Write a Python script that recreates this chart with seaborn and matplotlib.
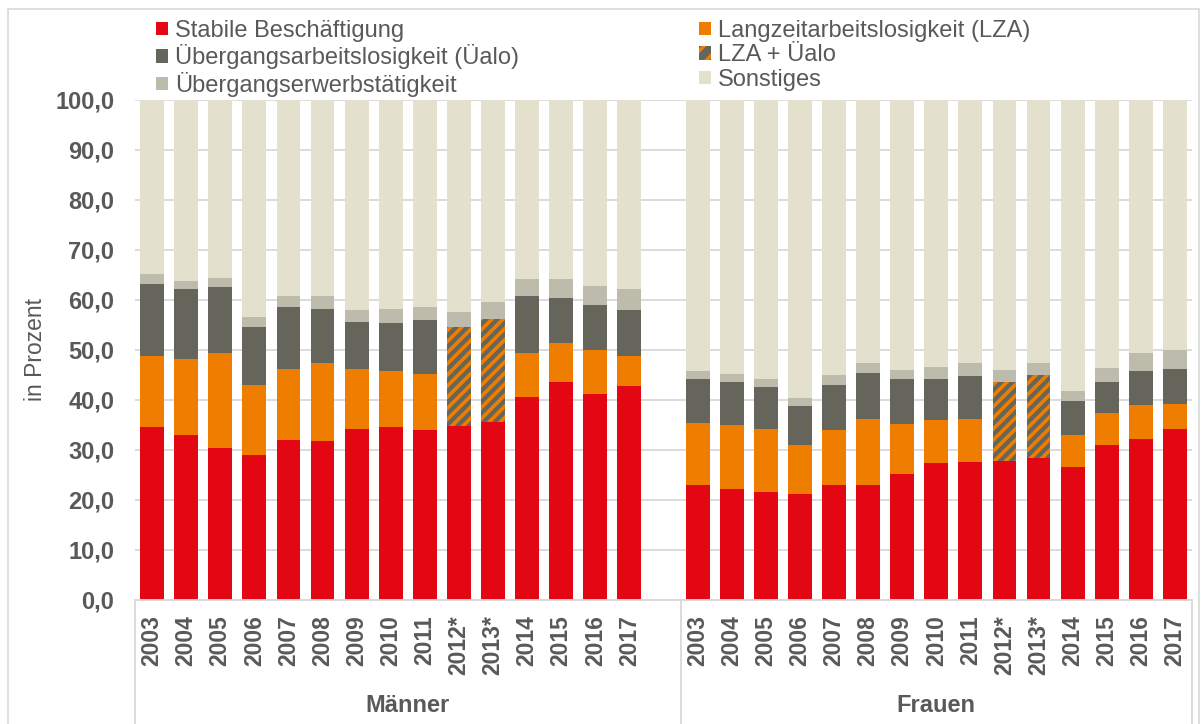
import numpy as np
import pandas as pd
import matplotlib
matplotlib.use("Agg")
import matplotlib.pyplot as plt
from matplotlib.patches import Patch, Rectangle
from matplotlib.lines import Line2D
import matplotlib.transforms as mtransforms
import seaborn as sns

# ---------------- data ----------------
years = ["2003", "2004", "2005", "2006", "2007", "2008", "2009", "2010", "2011",
         "2012*", "2013*", "2014", "2015", "2016", "2017"]
groups = ["Männer", "Frauen"]
nan = np.nan

m_stabil = [34.7, 33.1, 30.5, 29.1, 32.0, 31.9, 34.3, 34.6, 34.1, 34.9, 35.7, 40.7, 43.7, 41.3, 42.8]
m_lza = [14.1, 15.1, 19.0, 13.9, 14.2, 15.6, 12.0, 11.2, 11.2, nan, nan, 8.8, 7.8, 8.7, 6.1]
m_uealo = [14.5, 14.0, 13.2, 11.7, 12.5, 10.8, 9.4, 9.7, 10.7, nan, nan, 11.4, 9.0, 9.1, 9.2]
m_lza_uealo = [nan, nan, nan, nan, nan, nan, nan, nan, nan, 19.8, 20.6, nan, nan, nan, nan]
m_ueerw = [1.9, 1.7, 1.7, 2.0, 2.2, 2.5, 2.3, 2.8, 2.7, 3.0, 3.2, 3.4, 3.8, 3.8, 4.2]
m_sonst = [34.8, 36.1, 35.6, 43.3, 39.1, 39.2, 42.0, 41.7, 41.3, 42.3, 40.5, 35.7, 35.7, 37.1, 37.7]

f_stabil = [23.1, 22.3, 21.7, 21.3, 23.1, 23.1, 25.3, 27.5, 27.7, 27.9, 28.4, 26.7, 31.1, 32.3, 34.3]
f_lza = [12.3, 12.7, 12.5, 9.7, 10.9, 13.2, 9.9, 8.6, 8.5, nan, nan, 6.4, 6.3, 6.8, 5.0]
f_uealo = [8.9, 8.7, 8.5, 7.9, 9.0, 9.2, 9.1, 8.2, 8.7, nan, nan, 6.8, 6.3, 6.8, 6.9]
f_lza_uealo = [nan, nan, nan, nan, nan, nan, nan, nan, nan, 15.8, 16.7, nan, nan, nan, nan]
f_ueerw = [1.6, 1.6, 1.6, 1.6, 2.0, 2.0, 1.7, 2.4, 2.6, 2.3, 2.4, 2.0, 2.8, 3.6, 3.9]
f_sonst = [54.1, 54.7, 55.7, 59.5, 55.0, 52.5, 54.0, 53.3, 52.5, 54.0, 52.5, 58.1, 53.5, 50.5, 49.9]

series = ["Stabile Beschäftigung", "Langzeitarbeitslosigkeit (LZA)",
          "Übergangsarbeitslosigkeit (Üalo)", "LZA + Üalo",
          "Übergangserwerbstätigkeit", "Sonstiges"]
colors = {
    "Stabile Beschäftigung": "#E30613",
    "Langzeitarbeitslosigkeit (LZA)": "#EF7D00",
    "Übergangsarbeitslosigkeit (Üalo)": "#65655B",
    "LZA + Üalo": "#65655B",
    "Übergangserwerbstätigkeit": "#BDBBAB",
    "Sonstiges": "#E3E1CE",
}

# ---------------- build long table with stacked tops ----------------
rows = []
group_data = {
    "Männer": [m_stabil, m_lza, m_uealo, m_lza_uealo, m_ueerw, m_sonst],
    "Frauen": [f_stabil, f_lza, f_uealo, f_lza_uealo, f_ueerw, f_sonst],
}
for g in groups:
    vals = np.array(group_data[g], dtype=float)  # series x years
    filled = np.nan_to_num(vals)
    cum = np.cumsum(filled, axis=0)
    for j, y in enumerate(years):
        key = f"{g}|{y}"
        for i, s in enumerate(series):
            if not np.isnan(vals[i, j]):
                rows.append({"key": key, "series": s, "top": cum[i, j]})
df = pd.DataFrame(rows)

gap = " "
order = [f"Männer|{y}" for y in years] + [gap] + [f"Frauen|{y}" for y in years]

# ---------------- plot ----------------
sns.set_theme(style="white")
plt.rcParams["font.family"] = ["Liberation Sans", "DejaVu Sans"]
plt.rcParams["hatch.linewidth"] = 2.6

W, H = 1204, 724
fig = plt.figure(figsize=(W / 100, H / 100), dpi=100)
ax = fig.add_axes([135 / W, 1 - 600 / H, (1192 - 135) / W, 500 / H])

txt = "#595959"
grid_c = "#D9D9D9"

for s in reversed(series):
    sub = df[df["series"] == s]
    n_before = len(ax.patches)
    sns.barplot(data=sub, x="key", y="top", order=order, color=colors[s],
                saturation=1, width=0.7, errorbar=None, ax=ax, linewidth=0)
    for p in ax.patches[n_before:]:
        p.set_linewidth(0)
        p.set_facecolor(colors[s])
        if s == "LZA + Üalo":
            p.set_edgecolor("#EF7D00")
            p.set_hatch("///")
        else:
            p.set_edgecolor("none")

ax.set_ylim(0, 100)
ax.set_xlim(-0.5, len(order) - 0.5)
yt = np.arange(0, 101, 10)
ax.set_yticks(yt)
ax.set_yticklabels([f"{v:.1f}".replace(".", ",") for v in yt],
                   fontsize=17, fontweight="bold", color=txt)
ax.set_xticks(range(len(order)))
ax.set_xticklabels(years + [""] + years, rotation=90, fontsize=16.5,
                   fontweight="bold", color=txt, va="top", ha="center")
ax.tick_params(axis="both", length=0)
ax.tick_params(axis="y", pad=15)
ax.tick_params(axis="x", pad=11)
ax.set_xlabel("")
ax.set_ylabel("")
ax.set_axisbelow(True)
ax.yaxis.grid(True, color=grid_c, lw=1.3)
ax.xaxis.grid(False)
for sp in ["left", "right", "top"]:
    ax.spines[sp].set_visible(False)
ax.spines["bottom"].set_color(grid_c)
ax.spines["bottom"].set_linewidth(1.3)

# category group separators and labels
trans = mtransforms.blended_transform_factory(ax.transData, ax.transAxes)
for xs in [-0.5, 15.5, 30.5]:
    ax.add_line(Line2D([xs, xs], [0, -0.25], transform=trans, color=grid_c,
                       lw=1.3, clip_on=False))
ax.text(7.5, -0.21, "Männer", transform=trans, ha="center", va="center",
        fontsize=17, fontweight="bold", color=txt)
ax.text(23.0, -0.21, "Frauen", transform=trans, ha="center", va="center",
        fontsize=17, fontweight="bold", color=txt)

fig.text(35 / W, 1 - 350 / H, "in Prozent", rotation=90, ha="center",
         va="center", fontsize=16.5, color=txt)

# legend
def handle(s):
    if s == "LZA + Üalo":
        return Patch(facecolor=colors[s], edgecolor="#EF7D00", hatch="//", lw=0)
    return Patch(facecolor=colors[s], edgecolor="none", lw=0)

col1 = [series[0], series[2], series[4]]
col2 = [series[1], series[3], series[5]]
leg_kw = dict(loc="upper left", frameon=False, fontsize=17, labelcolor=txt,
              handlelength=0.5, handleheight=0.5, handletextpad=0.3,
              labelspacing=0.1, borderpad=0, borderaxespad=0)
leg1 = fig.legend([handle(s) for s in col1], col1,
                  bbox_to_anchor=(156 / W, 1 - 20 / H), **leg_kw)
leg2 = fig.legend([handle(s) for s in col2], col2,
                  bbox_to_anchor=(699 / W, 1 - 20 / H), **leg_kw)

# outer border
fig.patches.append(Rectangle((8 / W, -0.01), (1199 - 8) / W, 1.01 - 9 / H,
                             transform=fig.transFigure, fill=False,
                             edgecolor=grid_c, lw=1.2))

fig.savefig("out.png", dpi=100)
